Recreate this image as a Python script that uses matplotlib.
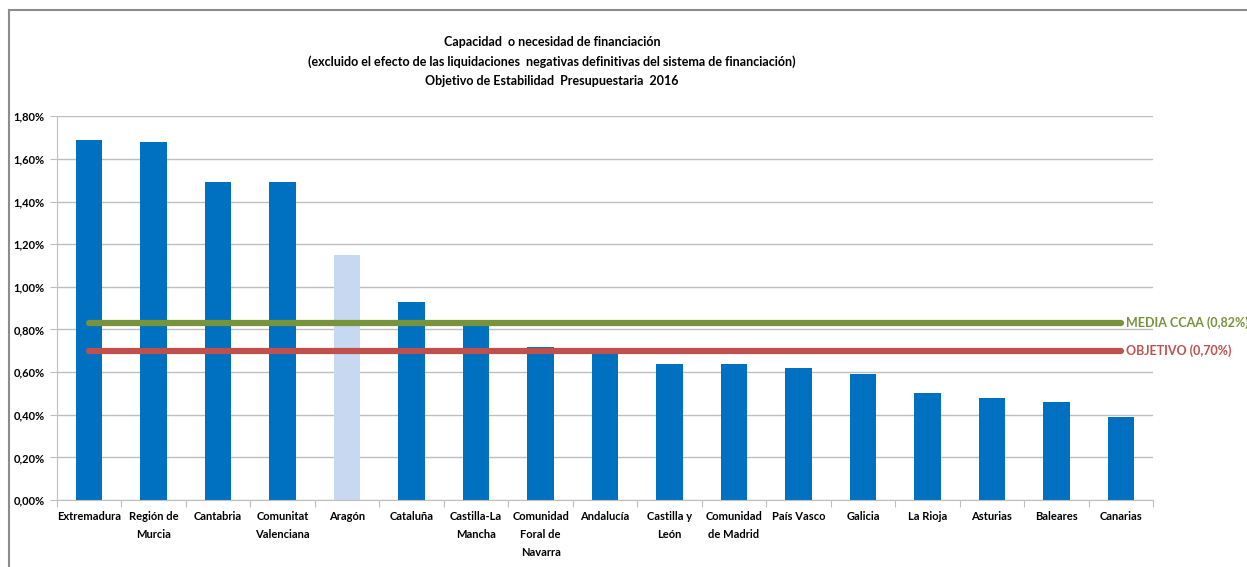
import matplotlib
matplotlib.use("Agg")
import matplotlib.pyplot as plt
from matplotlib.ticker import FuncFormatter, FixedLocator
from matplotlib.lines import Line2D

categories = ["Extremadura", "Región de\nMurcia", "Cantabria", "Comunitat\nValenciana",
              "Aragón", "Cataluña", "Castilla-La\nMancha", "Comunidad\nForal de\nNavarra",
              "Andalucía", "Castilla y\nLeón", "Comunidad\nde Madrid", "País Vasco",
              "Galicia", "La Rioja", "Asturias", "Baleares", "Canarias"]
values = [1.69, 1.68, 1.49, 1.49, 1.15, 0.93, 0.82, 0.72, 0.70,
          0.64, 0.64, 0.62, 0.59, 0.50, 0.48, 0.46, 0.39]
highlight = "Aragón"
media_ccaa = 0.83
objetivo = 0.70
media_label = "MEDIA CCAA (0,82%)"
objetivo_label = "OBJETIVO (0,70%)"
title_lines = ["Capacidad  o necesidad de financiación",
               "(excluido el efecto de las liquidaciones  negativas definitivas del sistema de financiación)",
               "Objetivo de Estabilidad  Presupuestaria  2016"]

plt.rcParams["font.family"] = ["Lato", "DejaVu Sans"]

fig = plt.figure(figsize=(12.47, 5.67), dpi=100)
ax = fig.add_axes([0.0457, 0.118, 0.879, 0.677])

x = list(range(len(categories)))
colors = ["#C6D9F1" if c == highlight else "#0070C0" for c in categories]
ax.bar(x, values, width=0.41, color=colors, zorder=2)

ax.plot([0, 16], [media_ccaa, media_ccaa], color="#77933C", lw=4.5,
        solid_capstyle="round", zorder=3)
ax.plot([0, 16], [objetivo, objetivo], color="#C0504D", lw=4.5,
        solid_capstyle="round", zorder=3)
ax.text(16.08, media_ccaa, media_label, color="#77933C", fontsize=9.0,
        fontweight="bold", va="center", ha="left", clip_on=False)
ax.text(16.08, objetivo, objetivo_label, color="#C0504D", fontsize=9.0,
        fontweight="bold", va="center", ha="left", clip_on=False)

ax.set_xlim(-0.5, len(categories) - 0.5)
ax.set_ylim(0, 1.8)
ax.set_yticks([i * 0.2 for i in range(10)])
ax.yaxis.set_major_formatter(FuncFormatter(lambda v, p: f"{v:.2f}%".replace(".", ",")))
ax.yaxis.grid(True, color="#BFBFBF", lw=1.0, zorder=0)
ax.set_axisbelow(True)

ax.xaxis.set_major_locator(FixedLocator([i - 0.5 for i in range(len(categories) + 1)]))
ax.xaxis.set_ticklabels([])
ax.xaxis.set_minor_locator(FixedLocator(x))
ax.set_xticklabels(categories, minor=True, fontsize=8, fontweight="bold",
                   linespacing=1.75, va="top")
ax.tick_params(axis="x", which="minor", length=0, pad=8)
ax.tick_params(axis="x", which="major", length=5, color="#BFBFBF", direction="out")
ax.tick_params(axis="y", length=5, color="#BFBFBF", labelsize=8, pad=4)
for lbl in ax.get_yticklabels():
    lbl.set_fontweight("bold")

for s in ["top", "right"]:
    ax.spines[s].set_visible(False)
for s in ["left", "bottom"]:
    ax.spines[s].set_color("#BFBFBF")

for i, line in enumerate(title_lines):
    fig.text(0.4427, 0.926 - i * 0.0345, line, ha="center", va="center",
             fontsize=9, fontweight="bold")

# outer frame (top and left edges)
fig.add_artist(Line2D([0.0072, 1.0], [0.982, 0.982], color="#8C8C8C", lw=1.5,
                      transform=fig.transFigure))
fig.add_artist(Line2D([0.0072, 0.0072], [0.0, 0.982], color="#8C8C8C", lw=1.5,
                      transform=fig.transFigure))

fig.savefig("out.png", dpi=100, facecolor="white")
